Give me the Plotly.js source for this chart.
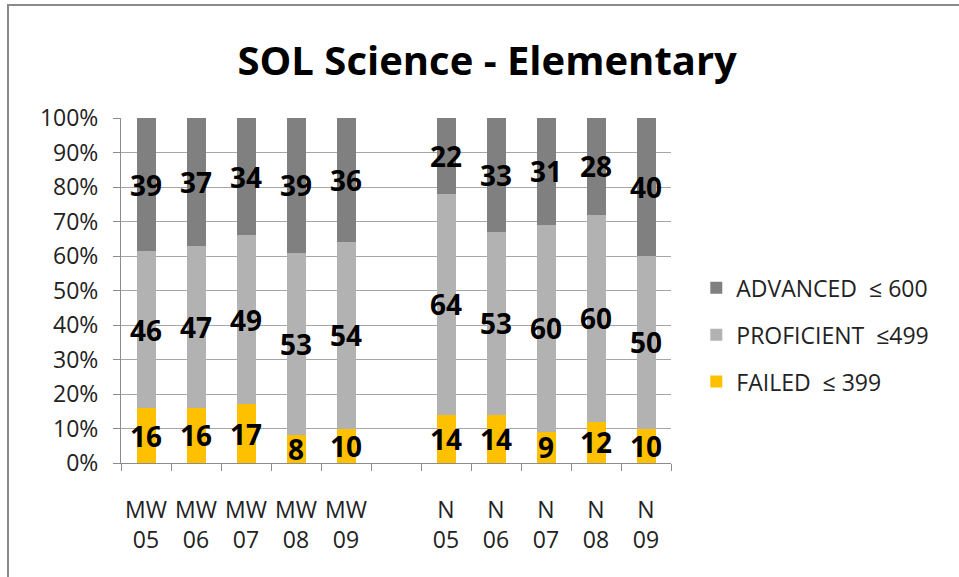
<!DOCTYPE html>
<html>
<head>
<meta charset="utf-8">
<script src="https://cdn.plot.ly/plotly-3.0.1.min.js"></script>
<style>
  html, body { margin: 0; padding: 0; background: #fff; }
  #wrap { position: relative; width: 959px; height: 577px; overflow: hidden; }
  #chart { width: 959px; height: 577px; }
  .bt { position: absolute; left: 7px; top: 4px; width: 952px; height: 2px; background: #8a8a8a; }
  .bl { position: absolute; left: 7px; top: 4px; width: 2px; height: 573px; background: #8a8a8a; }
</style>
</head>
<body>
<div id="wrap">
  <div id="chart"></div>
  <div class="bt"></div>
  <div class="bl"></div>
</div>
<script>
// Data
const categories = ['MW05', 'MW06', 'MW07', 'MW08', 'MW09', 'gap', 'N05', 'N06', 'N07', 'N08', 'N09'];
const tickLabels = ['MW<br>05', 'MW<br>06', 'MW<br>07', 'MW<br>08', 'MW<br>09', '', 'N<br>05', 'N<br>06', 'N<br>07', 'N<br>08', 'N<br>09'];
const failed     = [16, 16, 17, 8, 10, null, 14, 14, 9, 12, 10];
const proficient = [46, 47, 49, 53, 54, null, 64, 53, 60, 60, 50];
const advanced   = [39, 37, 34, 39, 36, null, 22, 33, 31, 28, 40];
const seriesNames = ['FAILED  \u2264 399', 'PROFICIENT  \u2264499', 'ADVANCED  \u2264 600'];
const seriesColors = ['#ffc000', '#b2b2b2', '#808080'];
const legendRanks = [3, 2, 1];

const FONT = 'Open Sans, sans-serif';

function mk(vals, i) {
  return {
    type: 'bar',
    x: categories,
    y: vals,
    name: seriesNames[i],
    legendgroup: 'g' + i,
    legendrank: legendRanks[i],
    marker: { color: seriesColors[i], line: { width: 0 } },
    text: vals.map(v => v === null ? '' : String(v)),
    textposition: 'inside',
    insidetextanchor: 'middle',
    textangle: 0,
    constraintext: 'none',
    textfont: { family: FONT, size: 28, color: '#000', weight: 'bold' },
    hoverinfo: 'skip'
  };
}

const data = [mk(failed, 0), mk(proficient, 1), mk(advanced, 2)];

const layout = {
  width: 959,
  height: 577,
  margin: { l: 121, r: 288, t: 118, b: 114 },
  paper_bgcolor: '#fff',
  plot_bgcolor: '#fff',
  barmode: 'stack',
  barnorm: 'percent',
  bargap: 0.62,
  title: {
    text: 'SOL Science - Elementary',
    font: { family: FONT, size: 40, color: '#000', weight: 'bold' },
    x: 0.508, xanchor: 'center',
    y: 0.895, yanchor: 'middle'
  },
  xaxis: {
    type: 'category',
    tickvals: categories,
    ticktext: tickLabels,
    tickson: 'boundaries',
    ticks: 'outside',
    ticklen: 7,
    tickangle: 0,
    tickcolor: '#8c8c8c',
    ticklabelstandoff: 26,
    showline: true,
    linecolor: '#8c8c8c',
    linewidth: 1,
    showgrid: false,
    tickfont: { family: FONT, size: 23, color: '#222' },
    fixedrange: true
  },
  yaxis: {
    range: [0, 100],
    dtick: 10,
    ticksuffix: '%',
    ticks: 'outside',
    ticklen: 7,
    tickcolor: '#8c8c8c',
    ticklabelstandoff: 10,
    showline: true,
    linecolor: '#8c8c8c',
    linewidth: 1,
    showgrid: true,
    gridcolor: '#a6a6a6',
    gridwidth: 1,
    zeroline: false,
    tickfont: { family: FONT, size: 23, color: '#222' },
    fixedrange: true
  },
  showlegend: true,
  legend: {
    x: 1.046, xanchor: 'left',
    y: 0.57, yanchor: 'top',
    traceorder: 'grouped',
    tracegroupgap: 14,
    font: { family: FONT, size: 23, color: '#222' },
    bgcolor: 'rgba(0,0,0,0)'
  }
};

Plotly.newPlot('chart', data, layout, { displayModeBar: false, staticPlot: true });
</script>
</body>
</html>
